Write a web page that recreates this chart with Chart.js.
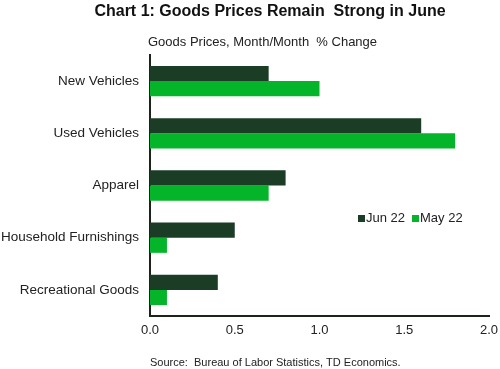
<!DOCTYPE html>
<html lang="en">
<head>
  <meta charset="UTF-8">
  <title>Chart 1: Goods Prices Remain Strong in June</title>
  <script src="https://cdn.jsdelivr.net/npm/chart.js"></script>
  <style>
    html, body { margin: 0; padding: 0; background: #fff; }
    #wrap { width: 500px; height: 369px; position: relative; }
  </style>
</head>
<body>
  <div id="wrap"><canvas id="goodsChart" width="500" height="369"></canvas></div>
  <script>
    const categories = ['New Vehicles', 'Used Vehicles', 'Apparel', 'Household Furnishings', 'Recreational Goods'];
    const jun22 = [0.7, 1.6, 0.8, 0.5, 0.4];
    const may22 = [1.0, 1.8, 0.7, 0.1, 0.1];
    const xTicks = [0, 0.5, 1.0, 1.5, 2.0];

    const FONT = '"Liberation Sans", Arial, sans-serif';
    const DARK = '#1b3d26';
    const BRIGHT = '#04b52a';

    // titles, source note and in-plot legend
    const textPlugin = {
      id: 'texts',
      afterDraw(chart) {
        const ctx = chart.ctx;
        ctx.save();
        ctx.fillStyle = '#111';
        ctx.textBaseline = 'middle';
        ctx.font = 'bold 16px ' + FONT;
        ctx.textAlign = 'center';
        ctx.fillText('Chart 1: Goods Prices Remain  Strong in June', 270, 12);

        ctx.font = '13px ' + FONT;
        ctx.textAlign = 'left';
        ctx.fillStyle = '#222';
        ctx.fillText('Goods Prices, Month/Month  % Change', 148, 42);

        ctx.font = '11px ' + FONT;
        ctx.fillText('Source:  Bureau of Labor Statistics, TD Economics.', 150, 363);

        // legend
        ctx.font = '13px ' + FONT;
        let x = 358;
        const y = 218;
        chart.data.datasets.forEach(ds => {
          ctx.fillStyle = ds.backgroundColor;
          ctx.fillRect(x, y - 3, 7, 7);
          ctx.fillStyle = '#222';
          ctx.fillText(ds.label, x + 8, y);
          x += 54;
        });
        ctx.restore();
      }
    };

    new Chart(document.getElementById('goodsChart'), {
      type: 'bar',
      data: {
        labels: categories,
        datasets: [
          { label: 'Jun 22', data: jun22, backgroundColor: DARK },
          { label: 'May 22', data: may22, backgroundColor: BRIGHT }
        ]
      },
      options: {
        indexAxis: 'y',
        responsive: false,
        animation: false,
        layout: { padding: { top: 55, right: 11, left: 0, bottom: 0 } },
        datasets: { bar: { barPercentage: 1, categoryPercentage: 0.58 } },
        plugins: {
          legend: { display: false },
          tooltip: { enabled: false }
        },
        scales: {
          x: {
            min: 0,
            max: 2,
            afterBuildTicks(axis) { axis.ticks = xTicks.map(v => ({ value: v })); },
            afterFit(axis) {
              axis.height = 53;
              axis.paddingLeft = 0;
              axis.paddingRight = 0;
            },
            grid: { display: false, drawTicks: false },
            border: { display: true, color: '#1a2419', width: 2 },
            ticks: {
              color: '#222',
              padding: 7,
              font: { family: FONT, size: 13 },
              callback: v => Number(v).toFixed(1)
            }
          },
          y: {
            afterFit(axis) {
              axis.width = 150;
              axis.paddingTop = 0;
              axis.paddingBottom = 0;
            },
            grid: { display: false, drawTicks: false },
            border: { display: true, color: '#1a2419', width: 2 },
            ticks: {
              color: '#222',
              padding: 11,
              font: { family: FONT, size: 13.5 }
            }
          }
        }
      },
      plugins: [textPlugin]
    });
  </script>
</body>
</html>
